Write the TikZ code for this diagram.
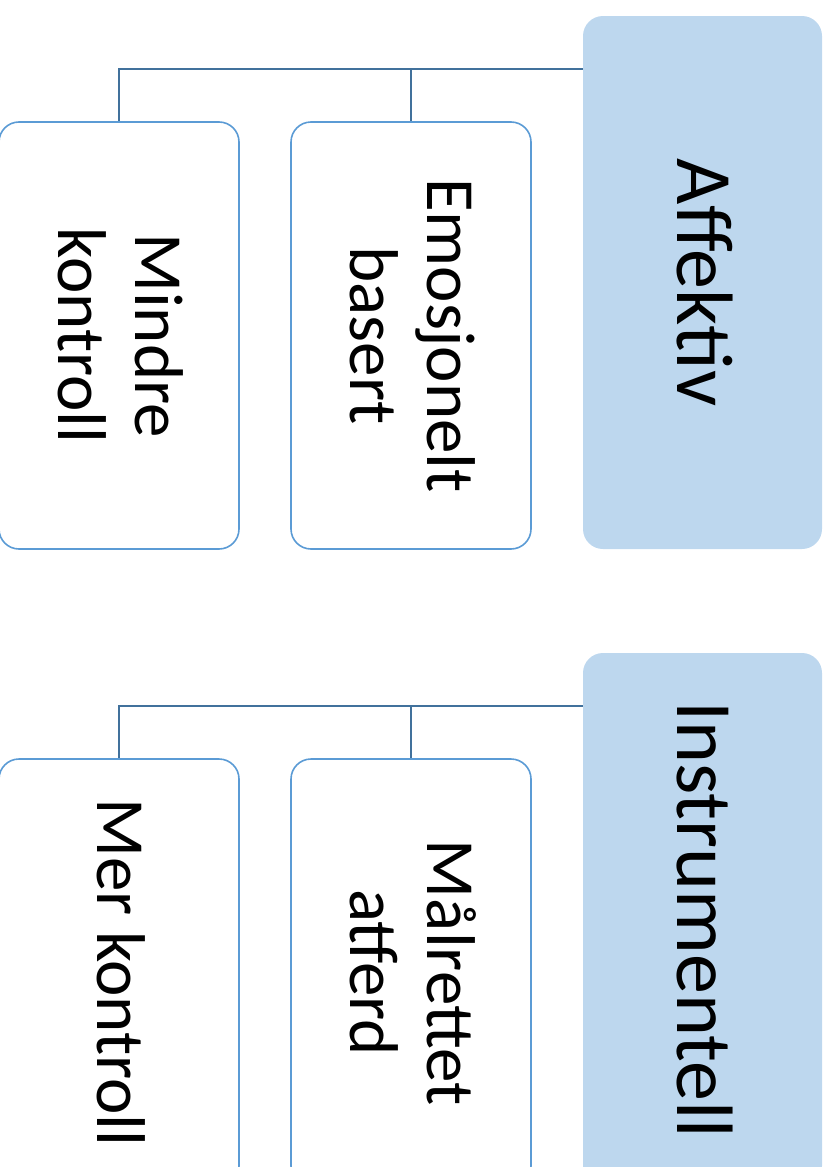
\documentclass[tikz,border=0pt]{standalone}
\usepackage{fontspec}
\setmainfont{Carlito}
\usetikzlibrary{backgrounds}
\definecolor{parentfill}{HTML}{BDD7EE}
\definecolor{childline}{HTML}{5B9BD5}
\definecolor{linkline}{HTML}{41719C}
% text turned a quarter turn clockwise; #2 = height of the block from the
% last baseline to the cap line of the first line, so it centres on the caps
\newcommand{\sidetext}[2]{\rotatebox{-90}{\raisebox{0pt}[#2][0pt]{\begin{tabular}[b]{@{}c@{}}#1\end{tabular}}}}
\begin{document}
\begin{tikzpicture}[x=1pt,y=-1pt,
  parent/.style={fill=parentfill, rounded corners=20pt, minimum width=239pt,
    minimum height=533pt, inner sep=0pt, font=\fontsize{80}{96}\selectfont},
  child/.style={draw=childline, line width=1.6pt, fill=white, rounded corners=20pt,
    minimum width=240pt, minimum height=427pt, inner sep=0pt,
    font=\fontsize{69}{76.5}\selectfont},
  link/.style={draw=linkline, line width=2.4pt}]
\useasboundingbox (0,0) rectangle (830,1167);

% upper group
\node[parent] (aff) at (702.5,282.5) {\sidetext{Affektiv}{0.632em}};
\node[child] (emo) at (411,335.5) {\sidetext{Emosjonelt\\basert}{\dimexpr 76.5pt+0.632em\relax}};
\node[child] (mind) at (119,335.5) {\sidetext{Mindre\\kontroll}{\dimexpr 76.5pt+0.632em\relax}};

% lower group
\node[parent] (ins) at (702.5,919.5) {\sidetext{Instrumentell}{0.632em}};
\node[child] (maal) at (411,972.5) {\sidetext{Målrettet\\atferd}{\dimexpr 76.5pt+0.632em\relax}};
\node[child] (mer) at (119,972.5) {\sidetext{Mer kontroll}{0.632em}};

\begin{scope}[on background layer]
  \coordinate (affjoin) at ([yshift=-53pt]aff.north west);
  \coordinate (insjoin) at ([yshift=-53pt]ins.north west);
  \draw[link] (affjoin) -| (mind.north);
  \draw[link] (affjoin) -| (emo.north);
  \draw[link] (insjoin) -| (mer.north);
  \draw[link] (insjoin) -| (maal.north);
\end{scope}
\end{tikzpicture}
\end{document}
